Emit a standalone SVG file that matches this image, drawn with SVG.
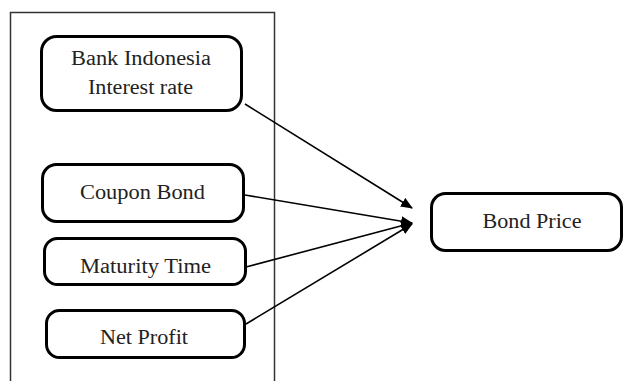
<svg xmlns="http://www.w3.org/2000/svg" width="625" height="381" viewBox="0 0 625 381">
<defs>
<style>
.box{fill:#fff;stroke:#000;stroke-width:3}
.frame{fill:none;stroke:#333;stroke-width:1.5}
.t{font-family:"Liberation Serif","Times New Roman",serif;font-size:20px;fill:#222;text-anchor:middle}
.c{stroke:#000;stroke-width:1.6;fill:none;marker-end:url(#ah)}
</style>
<marker id="ah" markerWidth="12" markerHeight="10" refX="11" refY="5" orient="auto" markerUnits="userSpaceOnUse">
<path d="M0,0 L12,5 L0,10 Z" fill="#000"/>
</marker>
</defs>
<rect width="625" height="381" fill="#fff"/>
<rect class="frame" x="10.5" y="12.5" width="264" height="400"/>
<g id="connectors">
<line class="c" x1="245" y1="104" x2="412" y2="208"/>
<line class="c" x1="245" y1="195" x2="412" y2="223"/>
<line class="c" x1="246" y1="267" x2="412" y2="223"/>
<line class="c" x1="246" y1="324" x2="412" y2="224"/>
</g>
<g id="bank">
<rect class="box" x="41.5" y="36.5" width="200" height="74" rx="15"/>
<text class="t" x="141" y="65" textLength="140" lengthAdjust="spacingAndGlyphs">Bank Indonesia</text>
<text class="t" x="140.5" y="94" textLength="105" lengthAdjust="spacingAndGlyphs">Interest rate</text>
</g>
<g id="coupon">
<rect class="box" x="42.5" y="164.5" width="201" height="57" rx="14"/>
<text class="t" x="142.5" y="199" textLength="125" lengthAdjust="spacingAndGlyphs">Coupon Bond</text>
</g>
<g id="maturity">
<rect class="box" x="44.5" y="238.5" width="201" height="46" rx="13"/>
<text class="t" x="145.5" y="273" textLength="131" lengthAdjust="spacingAndGlyphs">Maturity Time</text>
</g>
<g id="netprofit">
<rect class="box" x="46.5" y="310.5" width="198" height="47" rx="13"/>
<text class="t" x="144" y="344" textLength="88" lengthAdjust="spacingAndGlyphs">Net Profit</text>
</g>
<g id="bondprice">
<rect class="box" x="431.5" y="193.5" width="190" height="57" rx="14"/>
<text class="t" x="532" y="228" textLength="99" lengthAdjust="spacingAndGlyphs">Bond Price</text>
</g>
</svg>
